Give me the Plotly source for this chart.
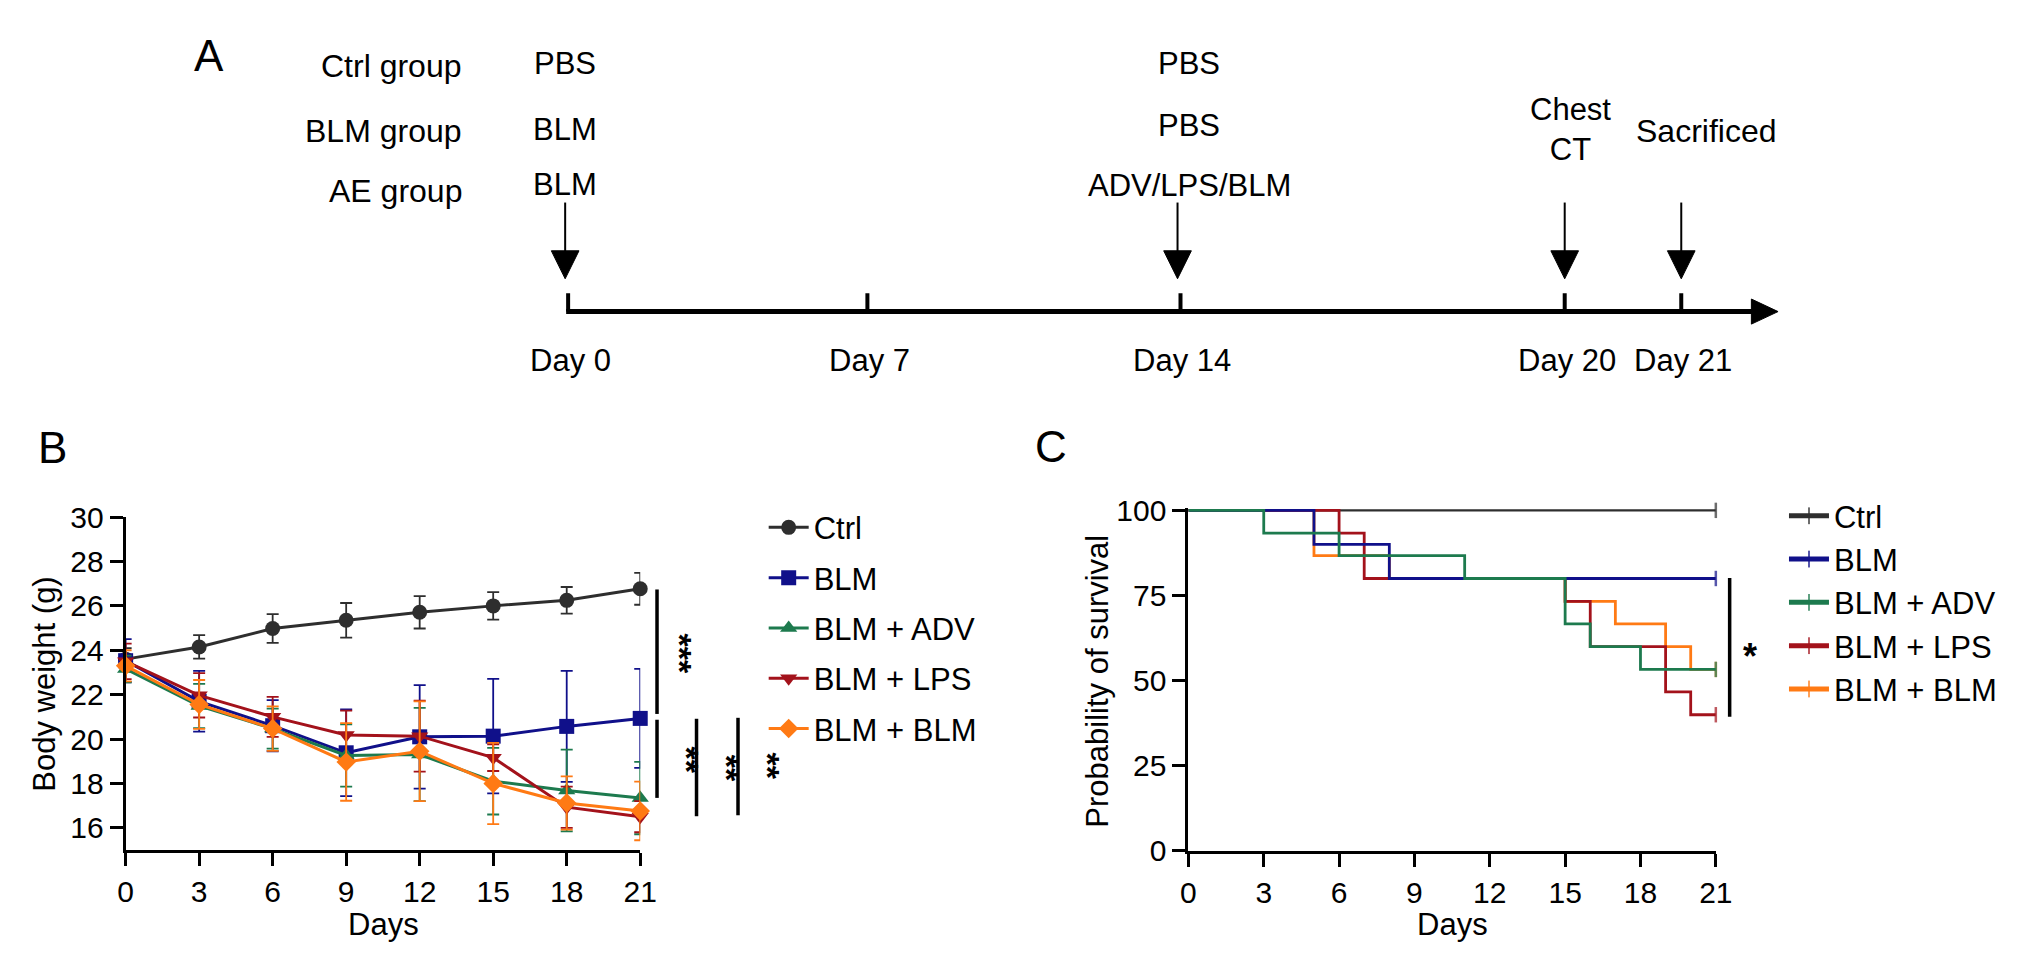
import plotly.graph_objects as go

W, H = 2032, 969
FONT = "Liberation Sans"


def px(x):
    return x / W


def py(y):
    return 1 - y / H


# ---- panel A: experiment schedule ----
group_names = ["Ctrl group", "BLM group", "AE group"]
day0_treat = ["PBS", "BLM", "BLM"]
day14_treat = ["PBS", "PBS", "ADV/LPS/BLM"]
timeline_days = ["Day 0", "Day 7", "Day 14", "Day 20", "Day 21"]
event_labels = ["Chest<br>CT", "Sacrificed"]

# ---- panel B: body weight (mean, SD) ----
days = [0, 3, 6, 9, 12, 15, 18, 21]
groups = ["Ctrl", "BLM", "BLM + ADV", "BLM + LPS", "BLM + BLM"]
w_ctrl = [23.6, 24.15, 24.98, 25.35, 25.71, 26.0, 26.25, 26.77]
sd_ctrl = [0.5, 0.53, 0.65, 0.78, 0.73, 0.62, 0.6, 0.72]
w_blm = [23.53, 21.7, 20.6, 19.38, 20.1, 20.13, 20.57, 20.93]
sd_blm = [0.97, 1.37, 1.15, 1.95, 2.33, 2.58, 2.5, 2.23]
w_adv = [23.16, 21.49, 20.47, 19.26, 19.3, 18.1, 17.68, 17.34]
sd_adv = [0.6, 1.0, 0.9, 1.4, 2.1, 1.5, 1.84, 1.63]
w_lps = [23.5, 21.97, 21.0, 20.18, 20.13, 19.16, 16.93, 16.5]
sd_lps = [0.8, 1.0, 0.9, 1.1, 1.6, 0.6, 0.93, 0.7]
w_bb = [23.3, 21.56, 20.47, 18.97, 19.45, 18.0, 17.12, 16.76]
sd_bb = [0.7, 1.1, 1.0, 1.75, 2.25, 1.83, 1.2, 1.32]
sig_b = ["***", "**", "**", "**"]

# ---- panel C: survival (Kaplan-Meier steps) ----
km_ctrl_t = [0, 21]
km_ctrl_s = [100, 100]
km_blm_t = [0, 5, 8, 21]
km_blm_s = [100, 90, 80, 80]
km_adv_t = [0, 3, 6, 11, 15, 16, 18, 21]
km_adv_s = [100, 93.3, 86.7, 80, 66.7, 60, 53.3, 53.3]
km_lps_t = [0, 6, 7, 15, 16, 19, 20, 21]
km_lps_s = [100, 93.3, 80, 73.3, 60, 46.7, 40, 40]
km_bb_t = [0, 5, 8, 15, 17, 19, 20, 21]
km_bb_s = [100, 86.7, 80, 73.3, 66.7, 60, 53.3, 53.3]
sig_c = "*"

colors = ["#2e2e2e", "#10108a", "#1d7a4e", "#a3121b", "#ff7a14"]
symbols = ["circle", "square", "triangle-up", "triangle-down", "diamond"]

fig = go.Figure()

# body weight curves
weights = [w_ctrl, w_blm, w_adv, w_lps, w_bb]
sds = [sd_ctrl, sd_blm, sd_adv, sd_lps, sd_bb]
for name, w, sd, col, sym in zip(groups, weights, sds, colors, symbols):
    fig.add_trace(go.Scatter(
        x=days, y=w, name=name, mode="lines+markers",
        line=dict(color=col, width=3),
        marker=dict(symbol=sym, size=15, color=col),
        error_y=dict(type="data", array=sd, color=col, thickness=1.8, width=6),
        cliponaxis=False, legend="legend", legendgroup="b" + name,
        xaxis="x", yaxis="y",
    ))

# survival curves, drawn so that the overlaps match the figure
km = {
    "Ctrl": (km_ctrl_t, km_ctrl_s, 1),
    "BLM": (km_blm_t, km_blm_s, 2),
    "BLM + ADV": (km_adv_t, km_adv_s, 3),
    "BLM + LPS": (km_lps_t, km_lps_s, 4),
    "BLM + BLM": (km_bb_t, km_bb_s, 5),
}
draw_order = ["Ctrl", "BLM + BLM", "BLM + LPS", "BLM", "BLM + ADV"]
for name in draw_order:
    t, s, rank = km[name]
    col = colors[groups.index(name)]
    sizes = [0] * (len(t) - 1) + [11]
    fig.add_trace(go.Scatter(
        x=t, y=s, name=name, mode="lines+markers",
        line=dict(color=col, width=2.8 if name != "Ctrl" else 2.2, shape="hv"),
        marker=dict(symbol="line-ns", size=sizes, line=dict(color=col, width=2.5)),
        cliponaxis=False, legend="legend2", legendgroup="c" + name,
        legendrank=rank, xaxis="x2", yaxis="y2",
    ))

axis_style = dict(
    showline=True, linecolor="black", linewidth=3, ticks="outside",
    ticklen=13, tickwidth=3, tickcolor="black", showgrid=False,
    zeroline=False, tickfont=dict(family=FONT, size=30, color="black"),
)

fig.update_layout(
    width=W, height=H, margin=dict(l=0, r=0, t=0, b=0),
    plot_bgcolor="white", paper_bgcolor="white",
    font=dict(family=FONT, color="black", size=30),
    xaxis=dict(domain=[px(111), px(632)], range=[0, 21], tickvals=days,
               anchor="y", **axis_style),
    yaxis=dict(domain=[py(855), py(510)], range=[15, 30],
               tickvals=list(range(16, 31, 2)), anchor="x", **axis_style),
    xaxis2=dict(domain=[px(1187), px(1721)], range=[0, 21], tickvals=days,
                anchor="y2", **axis_style),
    yaxis2=dict(domain=[py(856), py(500.2)], range=[0, 100.8],
                tickvals=[0, 25, 50, 75, 100], anchor="x2", **axis_style),
    legend=dict(x=px(757), y=py(493), xanchor="left", yanchor="top",
                font=dict(size=31), itemwidth=40, tracegroupgap=7,
                bgcolor="rgba(0,0,0,0)"),
    legend2=dict(x=px(1790), y=py(481), xanchor="left", yanchor="top",
                 font=dict(size=31), itemwidth=40, tracegroupgap=7,
                 itemsizing="constant", bgcolor="rgba(0,0,0,0)",
                 traceorder="normal"),
    showlegend=True,
)

shapes = []
ann = []


def text(x, y, s, size=31, xanchor="center", angle=0, bold=False):
    if bold:
        s = "<b>" + s + "</b>"
    ann.append(dict(x=px(x), y=py(y), xref="paper", yref="paper", text=s,
                    showarrow=False, xanchor=xanchor, yanchor="middle",
                    textangle=angle, font=dict(family=FONT, size=size, color="black")))


def seg(x0, y0, x1, y1, width=3):
    shapes.append(dict(type="line", xref="paper", yref="paper",
                       x0=px(x0), y0=py(y0), x1=px(x1), y1=py(y1),
                       line=dict(color="black", width=width)))


def tri(pts):
    d = "M " + " L ".join(f"{px(a)},{py(b)}" for a, b in pts) + " Z"
    shapes.append(dict(type="path", xref="paper", yref="paper", path=d,
                       fillcolor="black", line=dict(color="black", width=1)))


# panel letters
text(195, 32, "A", size=44)
text(37, 438, "B", size=44)
text(1048, 437, "C", size=44)

# schedule text
for g, y in zip(group_names, [42, 110, 172]):
    text(454, y, g, size=32, xanchor="right")
for t, y in zip(day0_treat, [40, 108, 165]):
    text(556, y, t)
for t, y in zip(day14_treat, [40, 104, 166]):
    text(1188, y, t)
text(1574, 108, event_labels[0])
text(1712, 110, event_labels[1], size=32)

# timeline
tl_x = [559, 862, 1179, 1568, 1686]
tl_y = 297
seg(tl_x[0] - 2, tl_y, 1760, tl_y, width=5)
tri([(1757, tl_y - 13), (1784, tl_y), (1757, tl_y + 13)])
for x, lab in zip(tl_x, timeline_days):
    seg(x, 278, x, tl_y, width=4)
    text(x + 2, 348, lab)
for i in [0, 2, 3, 4]:
    x = tl_x[i] - 3 if i < 3 else tl_x[i]
    seg(x, 184, x, 240, width=2)
    tri([(x - 14, 234), (x + 14, 234), (x, 263)])

# axis titles
text(28, 683, "Body weight (g)", size=31, angle=-90)
text(372, 932, "Days", size=31)
text(1095, 680, "Probability of survival", size=31, angle=-90)
text(1454, 932, "Days", size=31)

# significance marks, panel B
bars_b = [(649, 585, 714), (649, 720, 801), (689, 719, 820), (731, 718, 819)]
stars_b = [(672, 651), (679, 762), (720, 770), (761, 768)]
for (x, y0, y1) in bars_b:
    seg(x, y0, x, y1, width=3.5)
for s, (x, y) in zip(sig_b, stars_b):
    text(x, y, s, size=34, angle=90, bold=True)

# significance mark, panel C
seg(1735, 573, 1735, 717, width=3.5)
text(1756, 654, sig_c, size=36, bold=True)

fig.update_layout(shapes=shapes, annotations=ann)
fig.write_html("out.html")
